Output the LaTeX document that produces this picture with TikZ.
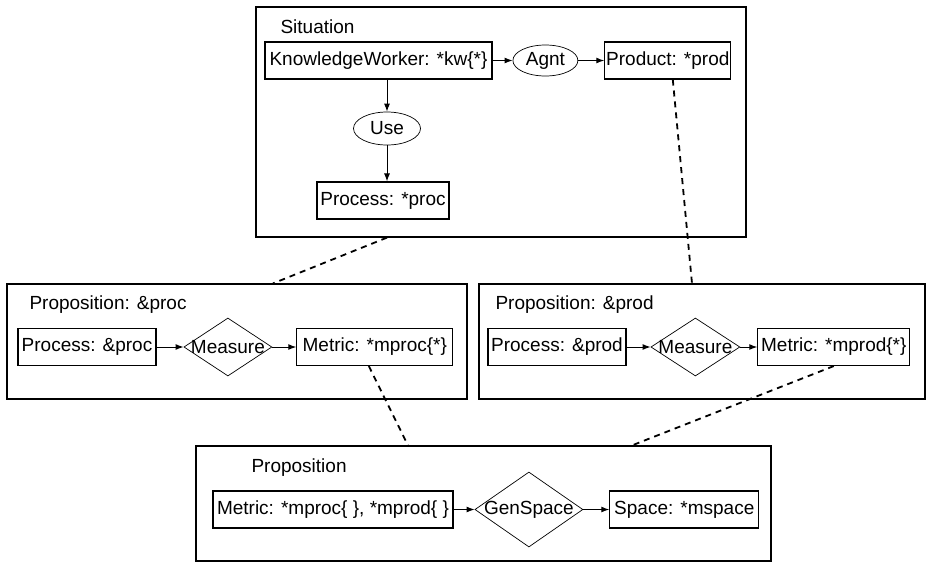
\documentclass[tikz,border=0pt]{standalone}
\usepackage{fontspec}
\setmainfont{Liberation Sans}
\usetikzlibrary{arrows.meta,calc,positioning,shapes.geometric}

\begin{document}
\begin{tikzpicture}[x=1pt,y=-1pt,
  every node/.style={font=\fontsize{19}{22}\selectfont},
  ctx/.style={draw,line width=1.2pt,inner sep=0pt},
  concept/.style={draw,line width=1.1pt,minimum height=37pt,inner xsep=1pt,inner ysep=0pt},
  rel/.style={draw,ellipse,line width=0.7pt,inner sep=0pt,minimum width=65pt,minimum height=31pt},
  actor/.style={draw,diamond,line width=0.7pt,inner xsep=-10pt,inner ysep=-6pt,minimum height=58pt},
  arc/.style={-{Latex[length=8pt,width=6pt]},line width=1pt},
  coref/.style={line width=1.8pt,dash pattern=on 6pt off 5pt}]
\useasboundingbox (0,0) rectangle (927,563);
% contexts
\node[ctx,minimum width=490pt,minimum height=230pt] (sit) at (501,122) {};
\node[ctx,minimum width=460pt,minimum height=115pt] (pproc) at (237,341.5) {};
\node[ctx,minimum width=446pt,minimum height=115pt] (pprod) at (702,341.5) {};
\node[ctx,minimum width=575pt,minimum height=115pt] (prop) at (483.5,503.5) {};
% situation
\node[anchor=base west] (sitlbl) at (277,33) {Situation};
\node[concept,minimum width=227pt] (kw) at (378.5,60.5) {KnowledgeWorker: *kw\{*\}};
\node[rel,right=20pt of kw] (agnt) {Agnt};
\node[concept,minimum width=126pt,right=26pt of agnt] (prod) {Product: *prod};
\node[rel,minimum width=67pt,minimum height=33pt] (use) at (387,128.5) {Use};
\node[concept,minimum width=132pt] (proc) at (383,200.5) {Process: *proc};
\draw[arc] (kw) -- (agnt);
\draw[arc] (agnt) -- (prod);
\draw[arc] (use.north |- kw.south) -- (use.north);
\draw[arc] (use.south) -- (use.south |- proc.north);
% proposition about the process
\node[anchor=base west] (pproclbl) at (26,309) {Proposition: \&proc};
\node[concept,minimum width=138pt] (procA) at (87,347) {Process: \&proc};
\node[actor,minimum width=88pt,right=27pt of procA] (measA) {Measure};
\node[concept,minimum width=156pt,right=24pt of measA] (mproc) {Metric: *mproc\{*\}};
\draw[arc] (procA) -- (measA);
\draw[arc] (measA) -- (mproc);
% proposition about the product
\node[anchor=base west] (pprodlbl) at (492,309) {Proposition: \&prod};
\node[concept,minimum width=138pt] (procB) at (557,347) {Process: \&prod};
\node[actor,minimum width=89pt,right=24pt of procB] (measB) {Measure};
\node[concept,minimum width=152pt,right=17pt of measB] (mprod) {Metric: *mprod\{*\}};
\draw[arc] (procB) -- (measB);
\draw[arc] (measB) -- (mprod);
% measurement space
\node[anchor=base west] (proplbl) at (248,472) {Proposition};
\node[concept,minimum width=240pt] (mboth) at (333,509.5) {Metric: *mproc\{ \}, *mprod\{ \}};
\node[actor,minimum width=108pt,minimum height=56pt,right=21pt of mboth] (gen) {GenSpace};
\node[concept,minimum width=149pt,right=26pt of gen] (space) {Space: *mspace};
\draw[arc] (mboth) -- (gen);
\draw[arc] (gen) -- (space);
% coreference links
\draw[coref] (sit.south -| use) -- ($(pproc.north)+(36,0)$);
\draw[coref] ($(prod.south)+(5,0)$) -- ($(pprod.north)+(-10,0)$);
\draw[coref] ($(mproc.south)+(-6,0)$) -- ($(prop.north)+(-75.5,0)$);
\draw[coref] (mprod.south) -- ($(prop.north)+(148.5,0)$);
\end{tikzpicture}
\end{document}
